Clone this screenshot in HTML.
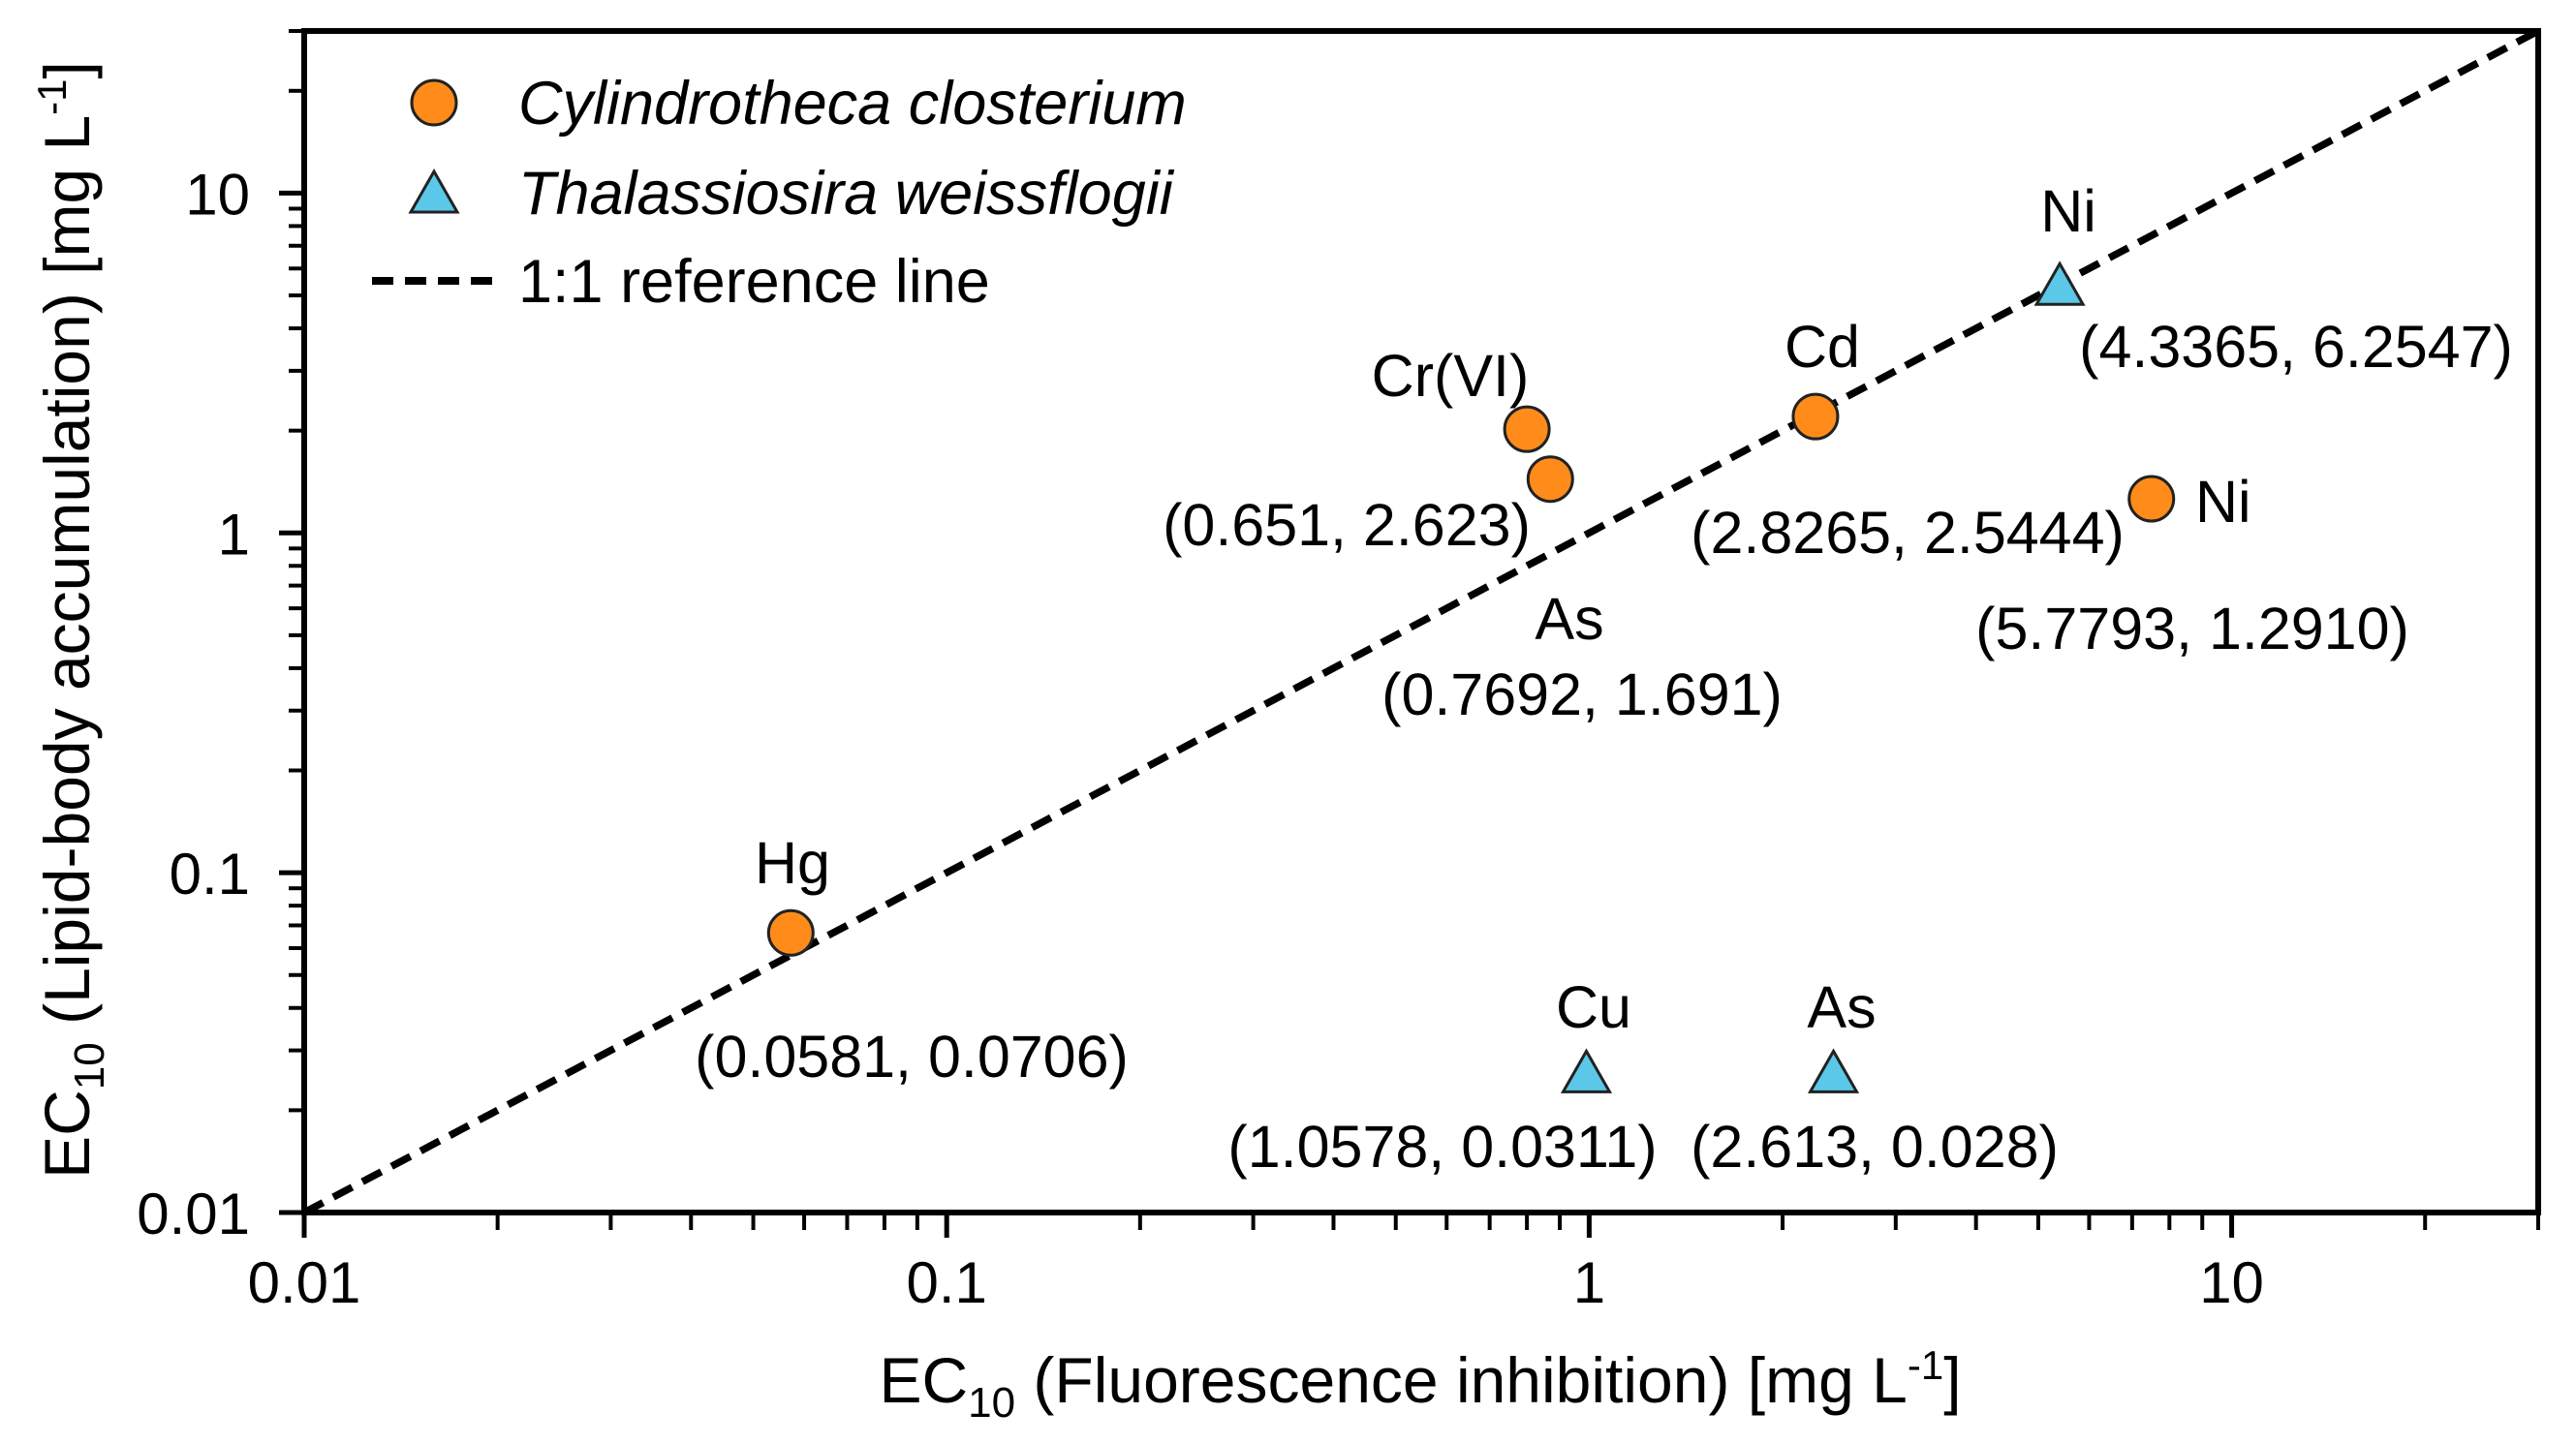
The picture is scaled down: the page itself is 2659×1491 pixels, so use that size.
<!DOCTYPE html>
<html><head><meta charset="utf-8"><style>
html,body{margin:0;padding:0;background:#fff;}
svg{display:block;}
text{font-family:"Liberation Sans",Arial,sans-serif;fill:#000;}
</style></head><body>
<svg id="chart" width="2659" height="1491" viewBox="0 0 2659 1491" xmlns="http://www.w3.org/2000/svg">
<rect x="0" y="0" width="2659" height="1491" fill="#fff"/>
<g id="plot"></g>
</svg>
<script>
const cycNames = ["Hg","Cr(VI)","As","Cd","Ni"];
const cycX = [0.0572, 0.8, 0.87, 2.25, 7.5];
const cycY = [0.0665, 2.02, 1.44, 2.2, 1.26];
const thaNames = ["Ni","Cu","As"];
const thaX = [5.4, 0.99, 2.4];
const thaY = [5.4, 0.026, 0.026];
const xTickVals = [0.01, 0.1, 1, 10];
const xTickLabels = ["0.01","0.1","1","10"];
const yTickVals = [0.01, 0.1, 1, 10];
const yTickLabels = ["0.01","0.1","1","10"];
const refLine = [0.01, 30];

const L=314,R=2620,T=32,B=1252;
const lmin=-2,lmax=Math.log10(30);
function X(v){return L+(Math.log10(v)-lmin)/(lmax-lmin)*(R-L);}
function Y(v){return B-(Math.log10(v)-lmin)/(lmax-lmin)*(B-T);}
const NS="http://www.w3.org/2000/svg";
const g=document.getElementById('plot');
function el(tag,attrs,parent){const e=document.createElementNS(NS,tag);for(const k in attrs)e.setAttribute(k,attrs[k]);(parent||g).appendChild(e);return e;}
function txt(s,x,y,size,anchor,parent){const t=el('text',{x:x,y:y,'font-size':size,'text-anchor':anchor||'middle'},parent);t.textContent=s;return t;}

const rl=el('line',{x1:X(refLine[0]),y1:Y(refLine[0]),x2:X(refLine[1]),y2:Y(refLine[1]),stroke:'#000','stroke-width':7.5,'stroke-dasharray':'22 12'});



const fr=el('rect',{x:L,y:T,width:R-L,height:B-T,fill:'none',stroke:'#000','stroke-width':6});



const xt=el('g',{});


const yt=el('g',{});


for(let d=-2;d<=1;d++){
  for(let m=1;m<=9;m++){
    const v=m*Math.pow(10,d); if(v>30.001)break;
    const maj=(m===1);
    el('line',{x1:X(v),y1:B,x2:X(v),y2:B+(maj?26:18),stroke:'#000','stroke-width':maj?5:4},xt);
    el('line',{x1:L,y1:Y(v),x2:L-(maj?26:16),y2:Y(v),stroke:'#000','stroke-width':maj?5:4},yt);
  }
}
xTickVals.forEach((v,i)=>{const t=txt(xTickLabels[i],X(v),1345,60,'middle');

});
yTickVals.forEach((v,i)=>{const t=txt(yTickLabels[i],258,Y(v)+22,60,'end');

});

function circle(x,y,parent){return el('circle',{cx:x,cy:y,r:23,fill:'#ff8c1a',stroke:'#222','stroke-width':3},parent);}
function tri(x,y,parent){const h=42,w=48;return el('polygon',{points:`${x},${y-h/2} ${x+w/2},${y+h/2} ${x-w/2},${y+h/2}`,fill:'#5bc8e8',stroke:'#222','stroke-width':3},parent);}
cycX.forEach((v,i)=>{const c=circle(X(v),Y(cycY[i]));

});
thaX.forEach((v,i)=>{const t=tri(X(v),Y(thaY[i]));

});
</script>
<svg style="position:absolute;left:0;top:0" width="2659" height="1491" xmlns="http://www.w3.org/2000/svg">
<g font-size="61" text-anchor="middle" font-family="Liberation Sans, Arial, sans-serif">
<text x="1497" y="409">Cr(VI)</text>
<text x="1390" y="563">(0.651, 2.623)</text>
<text x="1620" y="660">As</text>
<text x="1633" y="738">(0.7692, 1.691)</text>
<text x="1881" y="379">Cd</text>
<text x="1969" y="571">(2.8265, 2.5444)</text>
<text x="2135" y="239">Ni</text>
<text x="2370" y="379">(4.3365, 6.2547)</text>
<text x="2266" y="539" text-anchor="start">Ni</text>
<text x="2263" y="670">(5.7793, 1.2910)</text>
<text x="818" y="912">Hg</text>
<text x="941" y="1112">(0.0581, 0.0706)</text>
<text x="1645" y="1061">Cu</text>
<text x="1489" y="1205">(1.0578, 0.0311)</text>
<text x="1901" y="1061">As</text>
<text x="1935" y="1205">(2.613, 0.028)</text>
</g>
<g font-size="63" font-family="Liberation Sans, Arial, sans-serif">
<circle cx="448" cy="106" r="23" fill="#ff8c1a" stroke="#222" stroke-width="3"/>
<text x="535" y="128" font-style="italic">Cylindrotheca closterium</text>
<polygon points="448,177 472,219 424,219" fill="#5bc8e8" stroke="#222" stroke-width="3"/>
<text x="535" y="221" font-style="italic">Thalassiosira weissflogii</text>
<line x1="384" y1="290" x2="512" y2="290" stroke="#000" stroke-width="8" stroke-dasharray="22 12"/>
<text x="535" y="312">1:1 reference line</text>
</g>
<text x="1466" y="1448" font-size="66" text-anchor="middle" font-family="Liberation Sans, Arial, sans-serif">EC<tspan font-size="44" dy="15">10</tspan><tspan dy="-15"> (Fluorescence inhibition) [mg L</tspan><tspan font-size="42" dy="-24">-1</tspan><tspan dy="24">]</tspan></text>
<text transform="translate(92,640) rotate(-90)" x="0" y="0" font-size="66" text-anchor="middle" font-family="Liberation Sans, Arial, sans-serif">EC<tspan font-size="44" dy="15">10</tspan><tspan dy="-15"> (Lipid-body accumulation) [mg L</tspan><tspan font-size="42" dy="-24">-1</tspan><tspan dy="24">]</tspan></text>
</svg>
</body></html>
